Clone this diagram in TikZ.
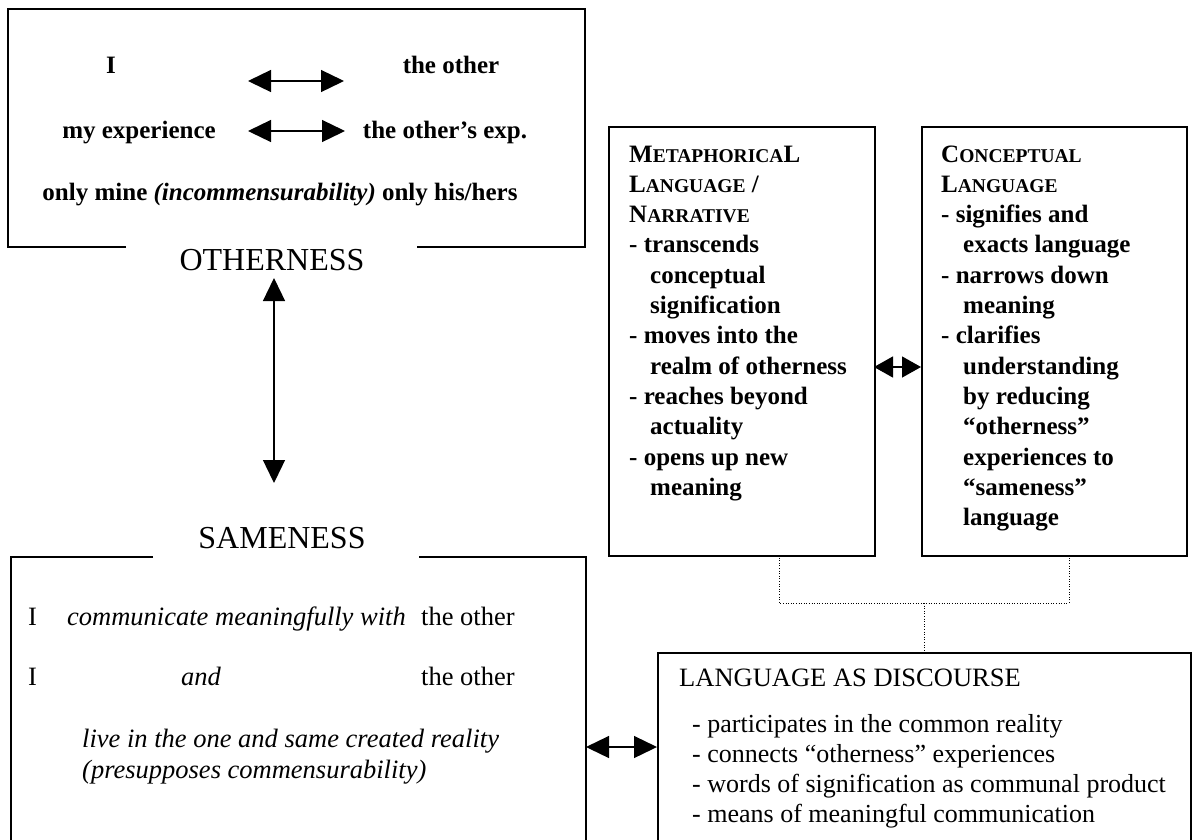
\documentclass[tikz,border=0pt]{standalone}
\usepackage{fontspec}
\setmainfont{Liberation Serif}
\usetikzlibrary{arrows.meta}
\newcommand{\smc}[1]{{\fontsize{19.5}{20}\selectfont #1}}
\tikzset{
  boxline/.style={draw, line width=1.8pt},
  dotline/.style={line width=0.9pt, dash pattern=on 1pt off 1.6pt},
  dbl/.style={line width=1.3pt, {Triangle[length=23pt,width=22pt]}-{Triangle[length=23pt,width=22pt]}},
  dblshort/.style={line width=1.3pt, {Triangle[length=19pt,width=21pt]}-{Triangle[length=19pt,width=21pt]}},
  topt/.style={font=\fontsize{25}{30}\selectfont\bfseries, inner sep=0pt, anchor=base},
  bigt/.style={font=\fontsize{32}{36}\selectfont, inner sep=0pt, anchor=base},
  samt/.style={font=\fontsize{26.5}{31}\selectfont, inner sep=0pt, anchor=base west},
  colt/.style={font=\fontsize{25}{30}\selectfont\bfseries, inner sep=0pt, anchor=base west},
  langt/.style={font=\fontsize{26}{30}\selectfont, inner sep=0pt, anchor=base west},
}
\begin{document}
\begin{tikzpicture}[x=1pt,y=-1pt]
\useasboundingbox[fill=white] (0,0) rectangle (1193,839);

% ---------- Otherness box ----------
\draw[line width=1.8pt] (126,247) -- (8,247) -- (8,9) -- (585,9) -- (585,247) -- (417,247);
\node[topt] (iA) at (111,73) {I};
\node[topt] (othA) at (451,73) {the other};
\node[topt] (myexp) at (139,138) {my experience};
\node[topt] (othexp) at (445,138) {the other’s exp.};
\node[topt] (only) at (280,200) {only mine \textit{(incommensurability)} only his/hers};
\coordinate (a1l) at (248,81);
\coordinate (a1r) at (344,81);
\coordinate (a2l) at (248,131);
\coordinate (a2r) at (345,131);
\draw[dbl] (a1l) -- (a1r);
\draw[dbl] (a2l) -- (a2r);
\node[bigt] (other) at (272,270) {OTHERNESS};

% ---------- vertical arrow ----------
\coordinate (vt) at (274,278);
\coordinate (vb) at (274,483);
\draw[dbl] (vt) -- (vb);

% ---------- Sameness box ----------
\node[bigt] (same) at (282,548) {SAMENESS};
\draw[line width=1.8pt] (153,557) -- (11,557) -- (11,860);
\draw[line width=1.8pt] (419,557) -- (586,557) -- (586,860);
\node[samt] (iB) at (28,625) {I};
\node[samt] (comm) at (67,625) {\itshape communicate meaningfully with};
\node[samt] (othB) at (421,625) {the other};
\node[samt] (iC) at (28,685) {I};
\node[samt, anchor=base] (and) at (201,685) {\itshape and};
\node[samt] (othC) at (421,685) {the other};
\node[samt] (live) at (82,747) {\itshape live in the one and same created reality};
\node[samt] (pres) at (82,778) {\itshape (presupposes commensurability)};

% ---------- Metaphorical / Conceptual boxes ----------
\node[boxline, anchor=north west, minimum width=266pt, minimum height=429pt, inner sep=0pt] (meta) at (608,126) {};
\node[boxline, anchor=north west, minimum width=265pt, minimum height=429pt, inner sep=0pt] (conc) at (921,126) {};
\foreach \ix/\tx [count=\i] in {629/{M\smc{ETAPHORICA}L}, 629/{L\smc{ANGUAGE} /}, 629/{N\smc{ARRATIVE}}, 629/{- transcends}, 650/{conceptual}, 650/{signification}, 629/{- moves into the}, 650/{realm of otherness}, 629/{- reaches beyond}, 650/{actuality}, 629/{- opens up new}, 650/{meaning}}
  \node[colt] (m\i) at ({\ix},{162+30.3*(\i-1)}) {\tx};
\foreach \ix/\tx [count=\i] in {941/{C\smc{ONCEPTUAL}}, 941/{L\smc{ANGUAGE}}, 941/{- signifies and}, 963/{exacts language}, 941/{- narrows down}, 963/{meaning}, 941/{- clarifies}, 963/{understanding}, 963/{by reducing}, 963/{“otherness”}, 963/{experiences to}, 963/{“sameness”}, 963/{language}}
  \node[colt] (c\i) at ({\ix},{162+30.3*(\i-1)}) {\tx};
\coordinate (mc) at (874,367);
\coordinate (cm) at (921,367);
\draw[dblshort] (mc) -- (cm);

% ---------- Language as discourse ----------
\node[boxline, anchor=north west, minimum width=533pt, minimum height=220pt, inner sep=0pt] (lang) at (657,652) {};
\node[langt, font=\fontsize{26.5}{30}\selectfont] (lt) at (679,686) {LANGUAGE AS DISCOURSE};
\node[langt] (l1) at (692,732) {- participates in the common reality};
\node[langt] (l2) at (692,762) {- connects “otherness” experiences};
\node[langt] (l3) at (692,792) {- words of signification as communal product};
\node[langt] (l4) at (692,822) {- means of meaningful communication};

% dotted connectors
\coordinate (mdot) at (779,555);
\coordinate (cdot) at (1069,555);
\coordinate (jn) at (924,603);
\draw[dotline] (mdot) |- (jn) -| (cdot);
\draw[dotline] (jn) -- (jn |- lang.north);

% sameness <-> language
\coordinate (sl) at (586,747);
\coordinate (ls) at (657,747);
\draw[dbl] (sl) -- (ls);
\end{tikzpicture}
\end{document}
